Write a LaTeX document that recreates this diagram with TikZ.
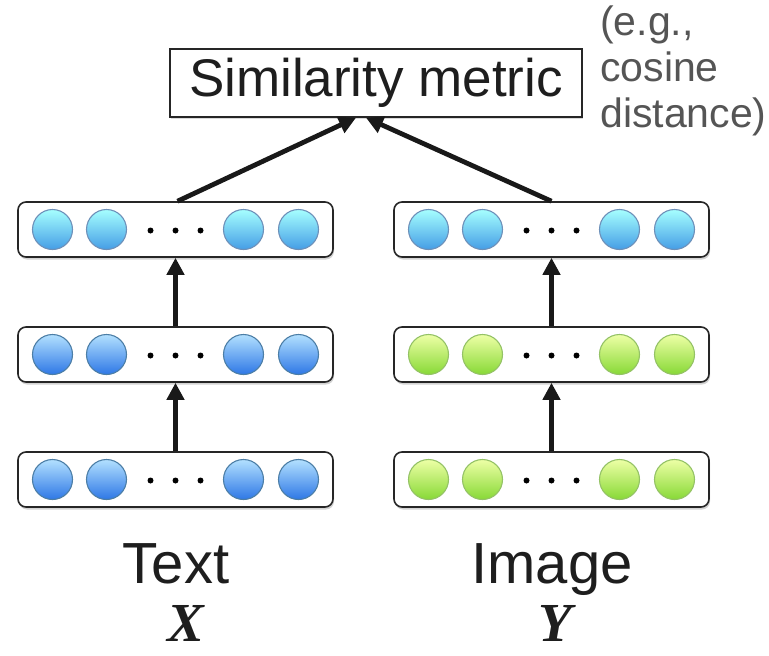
\documentclass[tikz,border=0pt]{standalone}
\usepackage{fontspec}
\setmainfont{Liberation Sans}
\newfontfamily\serifbi{Liberation Serif}
\usetikzlibrary{arrows.meta,shadows}
\definecolor{txt}{HTML}{1E1E1E}
\definecolor{note}{HTML}{555555}
\tikzset{
  layerbox/.style={draw=black!85, line width=1.6pt, rounded corners=8pt, fill=white,
    minimum width=315pt, minimum height=55pt, inner sep=0pt,
    drop shadow={shadow xshift=1pt, shadow yshift=-2.5pt, opacity=0.35}},
  neuron/.style={circle, line width=1.1pt, minimum size=40pt, inner sep=0pt},
  cyann/.style={neuron, draw=cyan!60!blue!70!black!70, top color=cyan!35!white, bottom color=cyan!55!blue!70!white!90!black},
  bluen/.style={neuron, draw=blue!45!cyan!50!black!70, top color=blue!40!cyan!30!white, bottom color=blue!60!cyan!80!white!90!black},
  greenn/.style={neuron, draw=green!50!yellow!60!black!60, top color=green!20!yellow!35!white, bottom color=green!50!yellow!75!white!85!black},
  dotn/.style={circle, fill=black, minimum size=6pt, inner sep=0pt},
  arr/.style={line width=4.8pt, draw=black!90, -{Triangle[length=17pt,width=17pt]}},
}
\begin{document}
\begin{tikzpicture}[x=1pt,y=-1pt]
\useasboundingbox (0,0) rectangle (769,656);
% similarity box
\node[draw=black!85, line width=1.5pt, fill=white, minimum width=412pt, minimum height=68pt,
  inner sep=0pt, font=\fontsize{53}{60}\selectfont, text=txt,
  drop shadow={shadow xshift=1pt, shadow yshift=-2pt, opacity=0.3}] (S) at (376,83) {Similarity metric};
\node[anchor=north west, align=left, text=note, font=\fontsize{41}{46}\selectfont, inner sep=0pt] (note) at (600,6) {(e.g.,\\cosine\\distance)};
% layers
\foreach \nm/\cx/\cy in {LT/175.5/229.5, LM/175.5/354.5, LB/175.5/479.5, RT/551.5/229.5, RM/551.5/354.5, RB/551.5/479.5}{
  \node[layerbox] (\nm) at (\cx,\cy) {};
  \node[dotn] (\nm d1) at (\cx-25,\cy+1) {};
  \node[dotn] (\nm d2) at (\cx,\cy+1) {};
  \node[dotn] (\nm d3) at (\cx+25,\cy+1) {};
}
\foreach \nm/\st in {LT/cyann, RT/cyann, LM/bluen, LB/bluen, RM/greenn, RB/greenn}{
  \node[\st] (\nm c1) at ([xshift=-123pt]\nm.center) {};
  \node[\st] (\nm c2) at ([xshift=-69pt]\nm.center) {};
  \node[\st] (\nm c3) at ([xshift=68pt]\nm.center) {};
  \node[\st] (\nm c4) at ([xshift=123pt]\nm.center) {};
}
% arrows
\draw[arr] (LB.north) -- (LM.south);
\draw[arr] (LM.north) -- (LT.south);
\draw[arr] (RB.north) -- (RM.south);
\draw[arr] (RM.north) -- (RT.south);
\draw[arr] ([xshift=2pt]LT.north) -- ([xshift=-20pt]S.south);
\draw[arr] (RT.north) -- ([xshift=-10pt]S.south);
% labels
\node[anchor=base, text=txt, font=\fontsize{58}{60}\selectfont, inner sep=0pt] (tx) at (176,583) {Text};
\node[anchor=base, text=txt, font=\fontsize{58}{60}\selectfont, inner sep=0pt] (im) at (552,583) {Image};
\node[anchor=base, text=txt, font=\serifbi\bfseries\itshape\fontsize{55}{60}\selectfont, inner sep=0pt] (X) at (186,641) {X};
\node[anchor=base, text=txt, font=\serifbi\bfseries\itshape\fontsize{55}{60}\selectfont, inner sep=0pt] (Y) at (555,641) {Y};
\end{tikzpicture}
\end{document}
